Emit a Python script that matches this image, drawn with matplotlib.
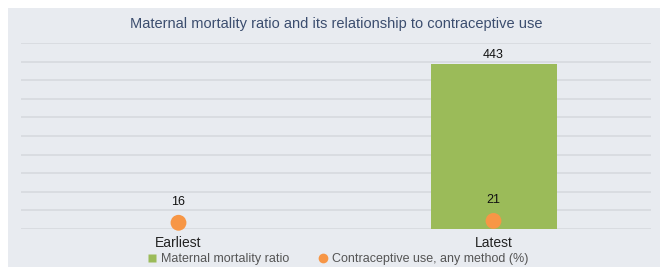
import numpy as np
import matplotlib
matplotlib.use("Agg")
import matplotlib.pyplot as plt
from matplotlib.lines import Line2D
from matplotlib.patches import Rectangle

# Data
categories = ["Earliest", "Latest"]
mmr_values = [np.nan, 443]          # no earliest MMR bar shown
contraceptive_values = [16, 21]

title = "Maternal mortality ratio and its relationship to contraceptive use"
bar_label = "Maternal mortality ratio"
dot_label = "Contraceptive use, any method (%)"

GREEN = "#9bbb59"
ORANGE = "#f79646"
CARD = "#e8ebf0"
GRID = "#d5d8dd"

plt.rcParams["font.family"] = ["Liberation Sans", "DejaVu Sans"]

fig = plt.figure(figsize=(6.63, 2.67), dpi=100)
fig.patch.set_facecolor("white")

# card background
W, H = 663, 267
fig.patches.append(Rectangle((8 / W, 0), (660 - 8) / W, (H - 8) / H,
                             transform=fig.transFigure, facecolor=CARD,
                             edgecolor="none", zorder=-5))

ax = fig.add_axes([21 / W, 38.3 / H, 630 / W, 185.4 / H])
ax.set_facecolor("none")
ax.set_zorder(2)

x = np.arange(len(categories))
ax.bar(x, mmr_values, width=0.4, color=GREEN, zorder=2)
ax.scatter(x, contraceptive_values, s=130, color=ORANGE, zorder=3,
           edgecolors="none", clip_on=False)

for xi, v in zip(x, mmr_values):
    if not np.isnan(v):
        ax.annotate(f"{v:.0f}", (xi, v), xytext=(0, 7), textcoords="offset points",
                    ha="center", va="center", fontsize=9, color="#111111")
for xi, v in zip(x, contraceptive_values):
    ax.annotate(f"{v}", (xi, v), xytext=(0, 15), textcoords="offset points",
                ha="center", va="center", fontsize=9, color="#111111")

ax.set_xlim(-0.5, 1.5)
ax.set_ylim(0, 500)
ax.set_yticks(np.arange(0, 501, 50))
ax.yaxis.grid(True, color=GRID, linewidth=1.1, zorder=0)
ax.set_axisbelow(True)
ax.tick_params(axis="y", left=False, labelleft=False)
ax.set_xticks(x)
ax.set_xticklabels(categories, fontsize=10, color="#222222")
ax.tick_params(axis="x", length=0, pad=5)
for s in ax.spines.values():
    s.set_visible(False)

fig.text(336 / W, 1 - 24 / H, title, ha="center", va="center",
         fontsize=10.5, color="#3b4d6e")

handles = [
    Line2D([], [], marker="s", linestyle="none", markersize=6,
           markerfacecolor=GREEN, markeredgecolor="none", label=bar_label),
    Line2D([], [], marker="o", linestyle="none", markersize=7,
           markerfacecolor=ORANGE, markeredgecolor="none", label=dot_label),
]
fig.legend(handles=handles, loc="center", bbox_to_anchor=(337 / W, 8 / H),
           ncol=2, frameon=False, fontsize=9, labelcolor="#555555",
           handletextpad=0.2, columnspacing=2.2, handlelength=1.0)

fig.savefig("out.png", dpi=100)
